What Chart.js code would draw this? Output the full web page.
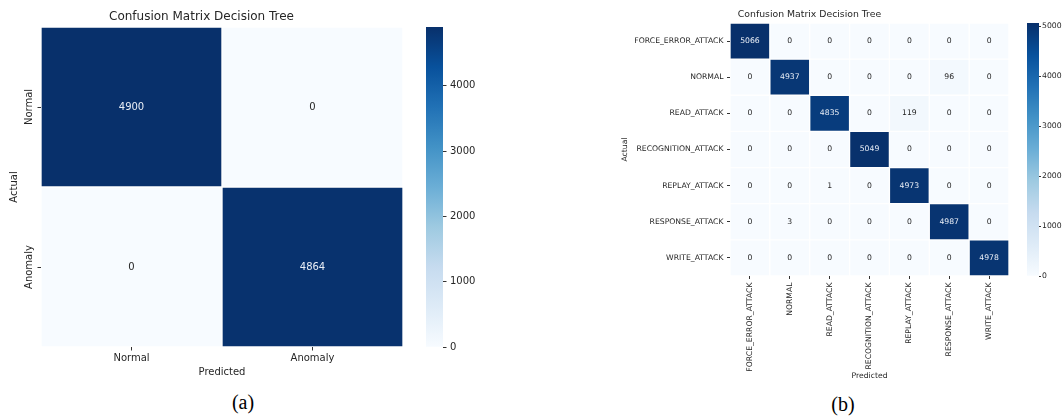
<!DOCTYPE html>
<html>
<head>
<meta charset="utf-8">
<script src="https://cdn.jsdelivr.net/npm/chart.js@4.4.0/dist/chart.umd.min.js"></script>
<style>
body { margin: 0; background: #fff; width: 1064px; height: 419px; overflow: hidden; position: relative; }
canvas { position: absolute; top: 0; }
.cap { position: absolute; font-family: "Liberation Serif", "Times New Roman", serif; font-size: 20px; color: #000; transform: translate(-50%, -50%); }
</style>
</head>
<body>
<canvas id="heatA" width="410" height="378" style="left:0px"></canvas>
<canvas id="barA" width="80" height="378" style="left:420px"></canvas>
<canvas id="heatB" width="405" height="381" style="left:610px"></canvas>
<canvas id="barB" width="43" height="381" style="left:1021px"></canvas>
<div class="cap" style="left:243px;top:402px">(a)</div>
<div class="cap" style="left:843px;top:404px">(b)</div>
<script>
// ---- data ----
var labelsA = ['Normal', 'Anomaly'];
var rowNormalA = [4900, 0];
var rowAnomalyA = [0, 4864];
var ticksA = [0, 1000, 2000, 3000, 4000];

var labelsB = ['FORCE_ERROR_ATTACK', 'NORMAL', 'READ_ATTACK', 'RECOGNITION_ATTACK',
               'REPLAY_ATTACK', 'RESPONSE_ATTACK', 'WRITE_ATTACK'];
var rowForceB = [5066, 0, 0, 0, 0, 0, 0];
var rowNormalB = [0, 4937, 0, 0, 0, 96, 0];
var rowReadB = [0, 0, 4835, 0, 119, 0, 0];
var rowRecogB = [0, 0, 0, 5049, 0, 0, 0];
var rowReplayB = [0, 0, 1, 0, 4973, 0, 0];
var rowResponseB = [0, 3, 0, 0, 0, 4987, 0];
var rowWriteB = [0, 0, 0, 0, 0, 0, 4978];
var ticksB = [0, 1000, 2000, 3000, 4000, 5000];

var TITLE = 'Confusion Matrix Decision Tree';

Chart.defaults.font.family = "'DejaVu Sans', sans-serif";
Chart.defaults.color = '#262626';
Chart.defaults.animation = false;
Chart.defaults.plugins.legend.display = false;
Chart.defaults.plugins.tooltip.enabled = false;

// matplotlib "Blues"
var BLUES = ['#f7fbff', '#deebf7', '#c6dbef', '#9ecae1', '#6baed6', '#4292c6', '#2171b5', '#08519c', '#08306b'];

function hex(h) {
  return [parseInt(h.substr(1, 2), 16), parseInt(h.substr(3, 2), 16), parseInt(h.substr(5, 2), 16)];
}
function blues(t) {
  t = Math.max(0, Math.min(1, t)) * (BLUES.length - 1);
  var i = Math.min(Math.floor(t), BLUES.length - 2), f = t - i;
  var a = hex(BLUES[i]), b = hex(BLUES[i + 1]);
  return 'rgb(' + a.map(function (v, k) { return Math.round(v + (b[k] - v) * f); }).join(',') + ')';
}

// numbers inside the cells
var cellText = {
  id: 'cellText',
  afterDatasetsDraw: function (chart, args, o) {
    var ctx = chart.ctx;
    ctx.save();
    ctx.font = o.size + 'px "DejaVu Sans"';
    ctx.textAlign = 'center';
    ctx.textBaseline = 'middle';
    chart.data.datasets.forEach(function (ds, r) {
      chart.getDatasetMeta(r).data.forEach(function (bar, c) {
        var v = ds.counts[c];
        var p = bar.getCenterPoint();
        ctx.fillStyle = v / o.vmax > 0.5 ? '#e9eef6' : '#262626';
        ctx.fillText(String(v), p.x, p.y);
      });
    });
    ctx.restore();
  }
};

function heatmap(id, labels, rows, vmax, o) {
  var datasets = rows.map(function (row, r) {
    return {
      data: row.map(function () { return [r, r + 1]; }),
      counts: row,
      backgroundColor: row.map(function (v) { return blues(v / vmax); }),
      borderColor: 'rgba(255,255,255,0.5)',
      borderWidth: 1,
      borderSkipped: false,
      grouped: false,
      barPercentage: 1,
      categoryPercentage: 1
    };
  });
  return new Chart(document.getElementById(id), {
    type: 'bar',
    data: { labels: labels, datasets: datasets },
    plugins: [cellText],
    options: {
      responsive: false,
      devicePixelRatio: 1,
      layout: { padding: { left: 0, right: o.padRight, top: 0, bottom: 0 } },
      plugins: {
        cellText: { size: o.cellSize, vmax: vmax },
        title: {
          display: true, text: TITLE, color: '#262626',
          font: { size: o.titleSize, weight: 'normal' },
          padding: o.titlePad
        }
      },
      scales: {
        x: {
          grid: { offset: false, drawOnChartArea: false, tickLength: o.tl, color: '#333' },
          border: { display: false },
          ticks: { font: { size: o.labelSize }, padding: o.xPad, autoSkip: false,
                   minRotation: o.xRot, maxRotation: o.xRot },
          title: { display: true, text: 'Predicted', font: { size: o.labelSize }, padding: { top: 0, bottom: 0 } },
          afterFit: function (s) { s.height = o.xH; }
        },
        y: {
          min: 0, max: labels.length, reverse: true,
          afterBuildTicks: function (s) {
            s.ticks = labels.map(function (l, i) { return { value: i + 0.5 }; });
          },
          grid: { drawOnChartArea: false, tickLength: o.tl, color: '#333' },
          border: { display: false },
          ticks: {
            font: { size: o.labelSize }, padding: o.yPad, autoSkip: false,
            minRotation: o.yRot, maxRotation: o.yRot, crossAlign: o.yAlign,
            callback: function (v, i) { return labels[i]; }
          },
          title: { display: true, text: 'Actual', font: { size: o.labelSize }, padding: { top: o.yTitlePad, bottom: 0 } },
          afterFit: function (s) { s.width = o.yW; }
        }
      }
    }
  });
}

function colorbar(id, vmax, ticks, o) {
  return new Chart(document.getElementById(id), {
    type: 'bar',
    data: {
      labels: [''],
      datasets: [{
        data: [[0, vmax]],
        backgroundColor: function (c) {
          var a = c.chart.chartArea;
          if (!a) return BLUES[0];
          var g = c.chart.ctx.createLinearGradient(0, a.bottom, 0, a.top);
          BLUES.forEach(function (col, i) { g.addColorStop(i / (BLUES.length - 1), col); });
          return g;
        },
        borderWidth: 0,
        barPercentage: 1,
        categoryPercentage: 1
      }]
    },
    options: {
      responsive: false,
      devicePixelRatio: 1,
      layout: { padding: { left: o.padLeft, right: 0, top: o.top, bottom: o.bottom } },
      scales: {
        x: { display: false },
        y: {
          position: 'right', min: 0, max: vmax,
          afterBuildTicks: function (s) { s.ticks = ticks.map(function (v) { return { value: v }; }); },
          grid: { drawOnChartArea: false, tickLength: o.tl, color: '#333' },
          border: { display: false },
          ticks: { font: { size: o.size }, padding: o.pad, callback: function (v) { return String(v); } },
          afterFit: function (s) { s.width = o.axisW; }
        }
      }
    }
  });
}

heatmap('heatA', labelsA, [rowNormalA, rowAnomalyA], 4900, {
  padRight: 7, titleSize: 12, titlePad: { top: 10, bottom: 2.6 },
  cellSize: 10, labelSize: 10, tl: 3.5, xPad: 1.5, xRot: 0, xH: 31,
  yRot: 90, yAlign: 'center', yPad: -13.4, yTitlePad: 8, yW: 41
});
colorbar('barA', 4900, ticksA, { padLeft: 6, top: 27, bottom: 31, tl: 3.5, pad: 3.5, size: 10, axisW: 57 });

heatmap('heatB', labelsB, [rowForceB, rowNormalB, rowReadB, rowRecogB, rowReplayB, rowResponseB, rowWriteB], 5066, {
  padRight: 6, titleSize: 9.3, titlePad: { top: 9.4, bottom: 2.4 },
  cellSize: 7.7, labelSize: 7.7, tl: 3, xPad: 3.5, xRot: 90, xH: 105,
  yRot: 0, yAlign: 'near', yPad: 3.5, yTitlePad: 10.4, yW: 120
});
colorbar('barB', 5066, ticksB, { padLeft: 6, top: 23, bottom: 105, tl: 2, pad: 1, size: 7.7, axisW: 25 });
</script>
</body>
</html>
